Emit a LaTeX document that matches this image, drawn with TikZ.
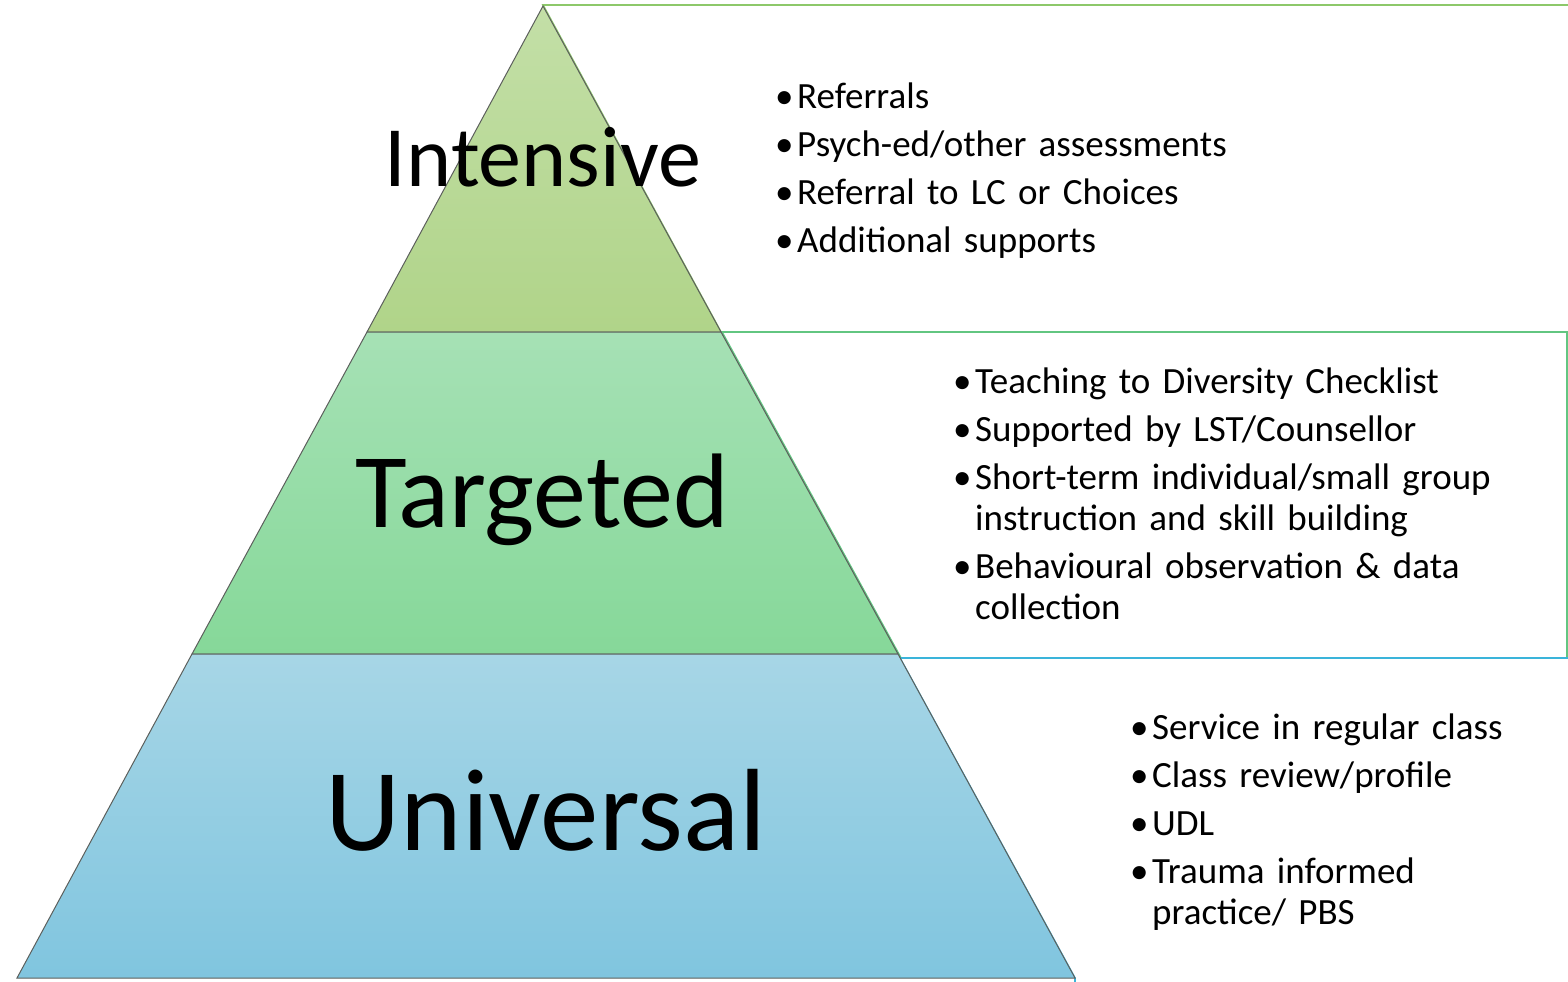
\documentclass[tikz,border=0pt]{standalone}
\usepackage{fontspec}
\setmainfont{Carlito}
\usepackage{xcolor}

\definecolor{intTop}{HTML}{C3DFA7}
\definecolor{intBot}{HTML}{B0D489}
\definecolor{tarTop}{HTML}{A6E1B5}
\definecolor{tarBot}{HTML}{86D899}
\definecolor{uniTop}{HTML}{A7D6E6}
\definecolor{uniBot}{HTML}{80C5DF}
\definecolor{tierEdge}{HTML}{5C5F5C}
\definecolor{intLine}{HTML}{8DC86A}
\definecolor{tarLine}{HTML}{62C681}
\definecolor{uniLine}{HTML}{3AB4DA}

\newcommand\tieritem[1]{\hangindent=22pt\hangafter=1\noindent\makebox[22pt][l]{\textbullet}#1\par}

\tikzset{
	tier/.style={draw=tierEdge, line width=1pt},
	sidebox/.style={line width=1.6pt},
	tierlabel/.style={inner sep=0pt, anchor=base},
	tierlist/.style={inner sep=0pt, anchor=base west, text width=760pt, align=left,
		font=\fontsize{37}{41}\selectfont\setlength{\parskip}{7pt}}
}

\begin{document}
\begin{tikzpicture}[x=1pt,y=-1pt]
	\useasboundingbox (0,0) rectangle (1568,982);
	\clip (0,0) rectangle (1568,982);

	\draw[sidebox, draw=intLine] (543,5)--(1590,5)--(1590,332)--(721,332)--cycle;
	\draw[sidebox, draw=tarLine] (722,332)--(1567,332)--(1567,658)--(901,658)--cycle;
	\draw[sidebox, draw=uniLine] (900,658)--(1590,658)--(1590,1010)--(1075,1010)--(1075,978)--cycle;

	\path[tier, top color=intTop, bottom color=intBot] (543,6)--(721,332)--(367,332)--cycle;
	\path[tier, top color=tarTop, bottom color=tarBot] (367,332)--(721,332)--(898,654)--(192,654)--cycle;
	\path[tier, top color=uniTop, bottom color=uniBot] (192,654)--(898,654)--(1075,978)--(17,978)--cycle;

	\node[tierlabel, font=\fontsize{86}{86}\selectfont] (intensive) at (543,186) {Intensive};
	\node[tierlabel, font=\fontsize{106}{106}\selectfont] (targeted) at (542,527) {Targeted};
	\node[tierlabel, font=\fontsize{117}{117}\selectfont] (universal) at (546,850) {Universal};

	\node[tierlist] (intensiveList) at (775,108) {%
		\tieritem{Referrals}
		\tieritem{Psych-ed/other assessments}
		\tieritem{Referral to LC or Choices}
		\tieritem{Additional supports}};
	\node[tierlist] (targetedList) at (953,393) {%
		\tieritem{Teaching to Diversity Checklist}
		\tieritem{Supported by LST/Counsellor}
		\tieritem{Short-term individual/small group\newline instruction and skill building}
		\tieritem{Behavioural observation \& data\newline collection}};
	\node[tierlist] (universalList) at (1130,739) {%
		\tieritem{Service in regular class}
		\tieritem{Class review/profile}
		\tieritem{UDL}
		\tieritem{Trauma informed\newline practice/ PBS}};
\end{tikzpicture}
\end{document}
